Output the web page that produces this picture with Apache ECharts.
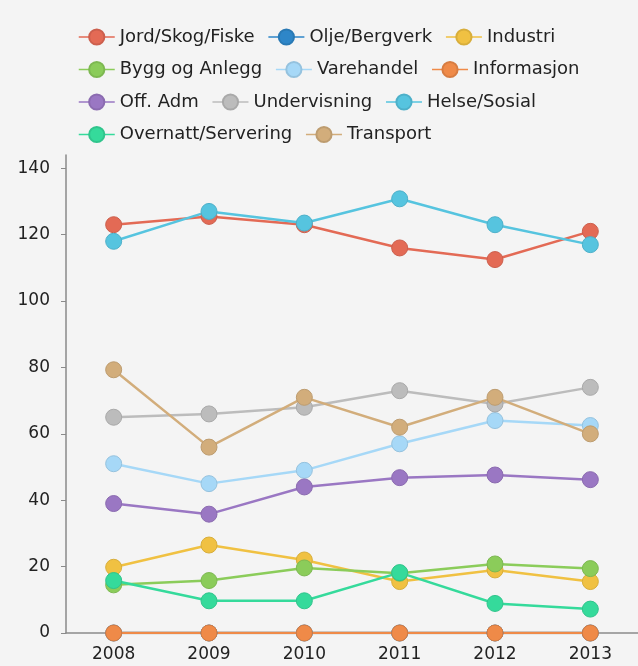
<!DOCTYPE html>
<html>
<head>
<meta charset="utf-8">
<title>Sysselsatte etter næring 2008–2013</title>
<script src="https://cdn.jsdelivr.net/npm/echarts@6/dist/echarts.min.js"></script>
<style>
  html, body { margin: 0; padding: 0; background: #f4f4f4; }
  #chart { width: 638px; height: 666px; }
</style>
</head>
<body>
<div id="chart"></div>
<script>
// Years on the category axis
const years = ['2008', '2009', '2010', '2011', '2012', '2013'];

// Values per industry, one array per series
const jordSkogFiske     = [123, 125.5, 123, 116, 112.5, 121];
const oljeBergverk      = [0, 0, 0, 0, 0, 0];
const industri          = [19.8, 26.5, 22, 15.5, 19, 15.5];
const byggOgAnlegg      = [14.5, 15.8, 19.6, 18, 20.8, 19.4];
const varehandel        = [51, 45, 49, 57, 64, 62.5];
const informasjon       = [0, 0, 0, 0, 0, 0];
const offAdm            = [39, 35.8, 44, 46.8, 47.6, 46.2];
const undervisning      = [65, 66, 68, 73, 69, 74];
const helseSosial       = [118, 127, 123.5, 130.8, 123, 117];
const overnattServering = [15.8, 9.7, 9.7, 18.2, 8.9, 7.2];
const transport         = [79.3, 56, 71, 62, 71, 60];

// Y axis tick values
const yTicks = [0, 20, 40, 60, 80, 100, 120, 140];

const seriesDefs = [
  { name: 'Jord/Skog/Fiske',     data: jordSkogFiske,     color: '#e36a55' },
  { name: 'Olje/Bergverk',       data: oljeBergverk,      color: '#2e86c8' },
  { name: 'Industri',            data: industri,          color: '#f0c142' },
  { name: 'Bygg og Anlegg',      data: byggOgAnlegg,      color: '#8bcc5a' },
  { name: 'Varehandel',          data: varehandel,        color: '#a6d8f7' },
  { name: 'Informasjon',         data: informasjon,       color: '#ef8a48' },
  { name: 'Off. Adm',            data: offAdm,            color: '#9a77c3' },
  { name: 'Undervisning',        data: undervisning,      color: '#bcbcbc' },
  { name: 'Helse/Sosial',        data: helseSosial,       color: '#56c4df' },
  { name: 'Overnatt/Servering',  data: overnattServering, color: '#35da9b' },
  { name: 'Transport',           data: transport,         color: '#d2ad7b' }
];

// Slightly darker rim for the markers
function darken(hex, f) {
  const n = parseInt(hex.slice(1), 16);
  const r = Math.round(((n >> 16) & 255) * f);
  const g = Math.round(((n >> 8) & 255) * f);
  const b = Math.round((n & 255) * f);
  return 'rgb(' + r + ',' + g + ',' + b + ')';
}

const legendRows = [
  ['Jord/Skog/Fiske', 'Olje/Bergverk', 'Industri'],
  ['Bygg og Anlegg', 'Varehandel', 'Informasjon'],
  ['Off. Adm', 'Undervisning', 'Helse/Sosial'],
  ['Overnatt/Servering', 'Transport']
];

const font = 'DejaVu Sans';

const chart = echarts.init(document.getElementById('chart'), null, { renderer: 'canvas' });

chart.setOption({
  backgroundColor: '#f4f4f4',
  animation: false,
  color: seriesDefs.map(s => s.color),
  legend: legendRows.map((row, i) => ({
    data: row,
    left: 78,
    top: 28 + i * 32.5,
    orient: 'horizontal',
    itemWidth: 36,
    itemHeight: 19,
    itemGap: 13,
    padding: 0,
    lineStyle: { width: 1.5 },
    textStyle: { fontFamily: font, fontSize: 18, color: '#222' }
  })),
  grid: { left: 66, right: 0, top: 155, bottom: 33 },
  xAxis: {
    type: 'category',
    data: years,
    boundaryGap: true,
    axisLine: { show: true, lineStyle: { color: '#8a8a8a', width: 1.5 } },
    axisTick: { show: true, alignWithLabel: true, length: 5, lineStyle: { color: '#8a8a8a' } },
    axisLabel: { fontFamily: font, fontSize: 17, color: '#222', margin: 13 },
    splitLine: { show: false }
  },
  yAxis: {
    type: 'value',
    min: 0,
    max: 144,
    axisLine: { show: true, lineStyle: { color: '#8a8a8a', width: 1.5 } },
    axisTick: { show: true, length: 5, customValues: yTicks, lineStyle: { color: '#8a8a8a' } },
    axisLabel: { fontFamily: font, fontSize: 17, color: '#222', margin: 16, customValues: yTicks },
    splitLine: { show: false }
  },
  series: seriesDefs.map(s => ({
    name: s.name,
    type: 'line',
    data: s.data,
    symbol: 'circle',
    symbolSize: 16,
    showAllSymbol: true,
    lineStyle: { width: 2.5, color: s.color },
    itemStyle: { color: s.color, borderColor: darken(s.color, 0.9), borderWidth: 1 },
    emphasis: { disabled: true }
  }))
});
</script>
</body>
</html>
